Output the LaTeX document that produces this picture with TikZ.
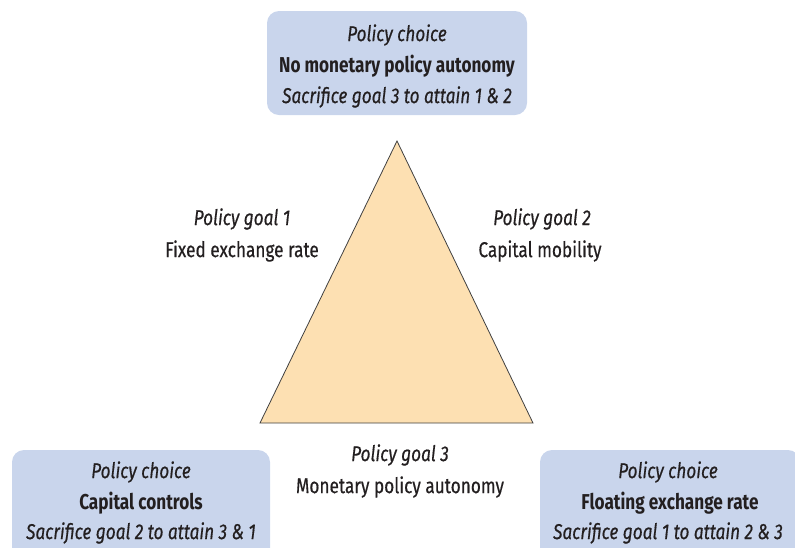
\documentclass[tikz,border=0pt]{standalone}
\usepackage{fontspec}
\setmainfont{Fira Sans}[FakeStretch=0.8,
  UprightFeatures={FakeBold=0.5},
  ItalicFeatures={FakeBold=0.5}]
\definecolor{boxfill}{HTML}{C9D5EC}
\definecolor{trifill}{HTML}{FDE0B2}
\definecolor{txt}{HTML}{231F20}
\begin{document}
\begin{tikzpicture}[x=1pt,y=-1pt,
  choicebox/.style={fill=boxfill, draw=none, rounded corners=12pt},
  lbl/.style={text=txt, font=\fontsize{21.5}{28}\selectfont, align=center, inner sep=0pt},
]
\useasboundingbox (0,0) rectangle (795,547);
\clip (0,0) rectangle (795,547);
% boxes
\path[choicebox] (267,11) rectangle (527,115);
\path[choicebox] (12,450) rectangle (270,560);
\path[choicebox] (540,450) rectangle (800,560);
% triangle
\coordinate (apex) at (397,141);
\coordinate (bl) at (260,423);
\coordinate (br) at (533,423);
\draw[fill=trifill, draw=black!75, line width=0.8pt] (apex) -- (br) -- (bl) -- cycle;
% top box text
\node[lbl] (t1) at (397,35) {\itshape Policy choice};
\node[lbl] (t2) at (397,66) {\bfseries No monetary policy autonomy};
\node[lbl] (t3) at (397,97) {\itshape Sacrifice goal 3 to attain 1 \& 2};
% goals
\node[lbl] (g1a) at (242,219) {\itshape Policy goal 1};
\node[lbl] (g1b) at (242,251) {Fixed exchange rate};
\node[lbl] (g2a) at (542,219) {\itshape Policy goal 2};
\node[lbl] (g2b) at (540,251) {Capital mobility};
\node[lbl] (g3a) at (400,455) {\itshape Policy goal 3};
\node[lbl] (g3b) at (400,487) {Monetary policy autonomy};
% bottom left box
\node[lbl] (l1) at (141,472) {\itshape Policy choice};
\node[lbl] (l2) at (141,503) {\bfseries Capital controls};
\node[lbl] (l3) at (141,533) {\itshape Sacrifice goal 2 to attain 3 \& 1};
% bottom right box
\node[lbl] (r1) at (668,472) {\itshape Policy choice};
\node[lbl] (r2) at (670,503) {\bfseries Floating exchange rate};
\node[lbl] (r3) at (668,533) {\itshape Sacrifice goal 1 to attain 2 \& 3};
\end{tikzpicture}
\end{document}
